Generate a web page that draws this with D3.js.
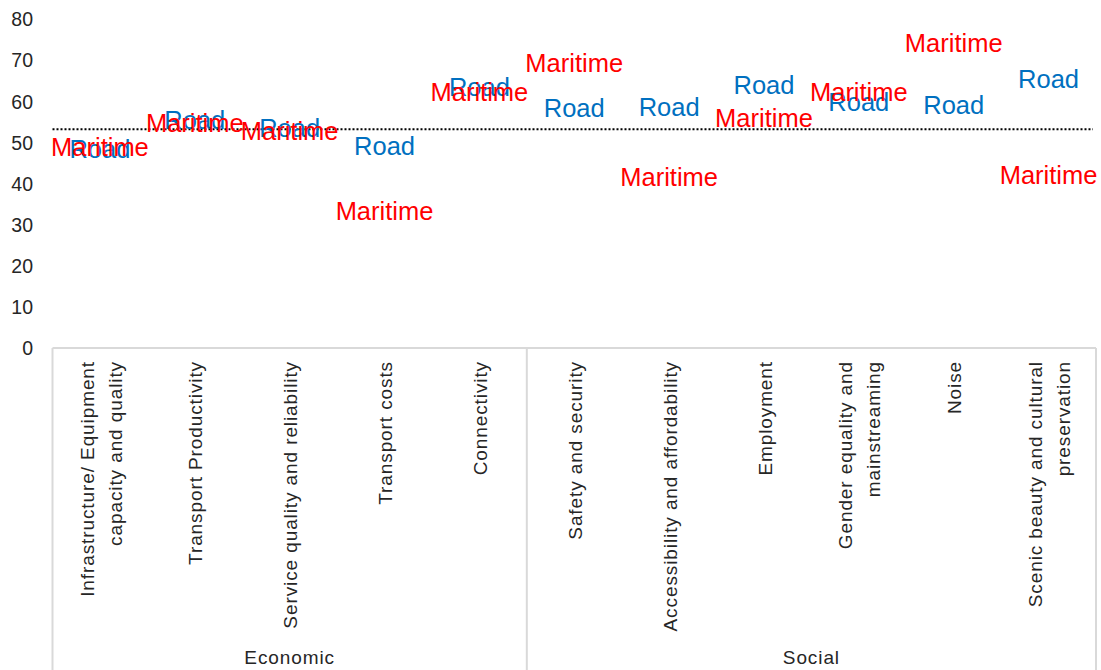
<!DOCTYPE html>
<html>
<head>
<meta charset="utf-8">
<script src="https://cdn.jsdelivr.net/npm/d3@7"></script>
<style>
  html, body { margin: 0; padding: 0; background: #fff; }
  svg { display: block; font-family: "Liberation Sans", Arial, sans-serif; }
</style>
</head>
<body>
<svg id="chart" width="1101" height="670"></svg>
<script>
// Sustainability scores by criterion, road vs maritime transport
const categories = [
  "Infrastructure/ Equipment|capacity and quality",
  "Transport Productivity",
  "Service quality and reliability",
  "Transport costs",
  "Connectivity",
  "Safety and security",
  "Accessibility and affordability",
  "Employment",
  "Gender equality and|mainstreaming",
  "Noise",
  "Scenic beauty and cultural|preservation"
];
const groups = ["Economic", "Economic", "Economic", "Economic", "Economic",
                "Social", "Social", "Social", "Social", "Social", "Social"];
const roadValues     = [48.3, 55.4, 53.5, 49.2, 63.5, 58.4, 58.6, 64.0, 59.7, 59.1, 65.4];
const maritimeValues = [48.8, 54.8, 52.8, 33.3, 62.3, 69.3, 41.6, 55.9, 62.2, 74.2, 42.1];
const referenceValue = 53.2;
const yTicks = [0, 10, 20, 30, 40, 50, 60, 70, 80];

const series = [
  { name: "Road", values: roadValues, color: "#0070C0" },
  { name: "Maritime", values: maritimeValues, color: "#FF0000" }
];

const svg = d3.select("#chart");
const plotLeft = 52.5, plotRight = 1096, plotTop = 19, axisY = 348, chartBottom = 670;

const x = d3.scaleBand().domain(categories).range([plotLeft, plotRight]).padding(0);
const y = d3.scaleLinear().domain([0, 80]).range([axisY, plotTop]);

const textColor = "#262626";
const lineColor = "#d9d9d9";

// Value axis: labels only
const yAxis = svg.append("g")
  .attr("transform", `translate(${plotLeft - 19.5},0)`)
  .call(d3.axisLeft(y).tickValues(yTicks).tickSize(0).tickPadding(0));
yAxis.attr("font-family", null).attr("font-size", null);
yAxis.select(".domain").remove();
yAxis.selectAll("text")
  .attr("fill", textColor)
  .style("font-size", "19.5px")
  .attr("dy", "0.35em");

// Category axis line and group separators
svg.append("line")
  .attr("x1", plotLeft).attr("x2", plotRight)
  .attr("y1", axisY).attr("y2", axisY)
  .attr("stroke", lineColor).attr("stroke-width", 2);

const groupNames = Array.from(new Set(groups));
const groupSpans = groupNames.map(g => {
  const members = categories.filter((c, i) => groups[i] === g);
  const x0 = x(members[0]);
  const x1 = x(members[members.length - 1]) + x.bandwidth();
  return { name: g, x0, x1 };
});
const separators = [plotLeft, ...groupSpans.map(s => s.x1)];
svg.selectAll("line.sep").data(separators).enter().append("line")
  .attr("class", "sep")
  .attr("x1", d => d).attr("x2", d => d)
  .attr("y1", axisY).attr("y2", chartBottom)
  .attr("stroke", lineColor).attr("stroke-width", 2);

// Rotated category labels
const lineH = 28;
const catLabels = svg.selectAll("text.cat").data(categories).enter().append("text")
  .attr("class", "cat")
  .attr("transform", d => `translate(${x(d) + x.bandwidth() / 2 + 1},361) rotate(-90)`)
  .attr("text-anchor", "end")
  .attr("fill", textColor)
  .style("font-size", "19px")
  .style("letter-spacing", "0.9px");
catLabels.each(function(d) {
  const lines = d.split("|");
  const t = d3.select(this);
  lines.forEach((ln, i) => {
    t.append("tspan")
      .attr("x", 0)
      .attr("y", (i - (lines.length - 1) / 2) * lineH)
      .attr("dy", "0.35em")
      .text(ln);
  });
});

// Group labels
svg.selectAll("text.group").data(groupSpans).enter().append("text")
  .attr("class", "group")
  .attr("x", d => (d.x0 + d.x1) / 2)
  .attr("y", 657)
  .attr("dy", "0.35em")
  .attr("text-anchor", "middle")
  .attr("fill", textColor)
  .style("font-size", "19px")
  .style("letter-spacing", "0.9px")
  .text(d => d.name);

// Reference line
svg.append("line")
  .attr("x1", plotLeft).attr("x2", plotRight - 3)
  .attr("y1", y(referenceValue)).attr("y2", y(referenceValue))
  .attr("stroke", "#000").attr("stroke-width", 2)
  .attr("stroke-dasharray", "2,2");

// Series points shown as their name labels
series.forEach(s => {
  svg.append("g").selectAll("text")
    .data(s.values.map((v, i) => ({ v, c: categories[i] })))
    .enter().append("text")
    .attr("x", d => x(d.c) + x.bandwidth() / 2)
    .attr("y", d => y(d.v))
    .attr("dy", "0.35em")
    .attr("text-anchor", "middle")
    .attr("fill", s.color)
    .style("font-size", "25.5px")
    .text(s.name);
});
</script>
</body>
</html>
